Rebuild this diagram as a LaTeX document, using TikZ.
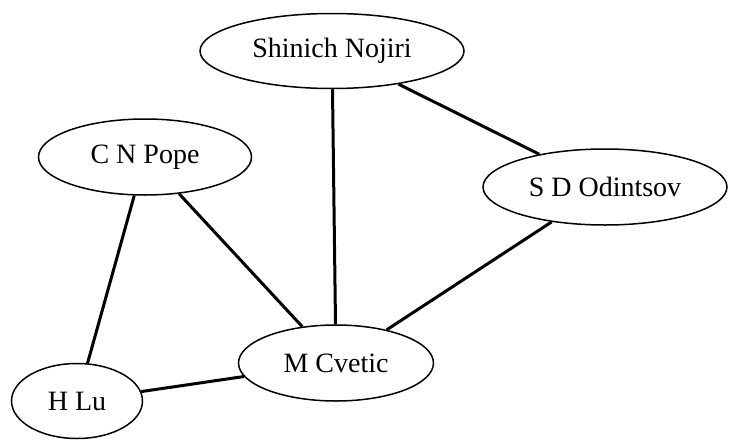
\documentclass[tikz,border=0pt]{standalone}
\usepackage{fontspec}
\setmainfont{Liberation Serif}
\usetikzlibrary{shapes.geometric}
\begin{document}
\begin{tikzpicture}[x=1pt,y=-1pt,
  person/.style={ellipse,draw=black,line width=1.5pt,inner sep=0pt,font=\fontsize{28}{32}\selectfont},
  link/.style={draw=black,line width=3pt}]
\useasboundingbox[fill=white] (0,0) rectangle (744,439);
\node[person,minimum width=264pt,minimum height=75pt] (sn) at (332,51) {Shinich Nojiri};
\node[person,minimum width=213pt,minimum height=76pt] (cp) at (145,157) {C N Pope};
\node[person,minimum width=244pt,minimum height=76pt] (sd) at (605,187) {S D Odintsov};
\node[person,minimum width=195pt,minimum height=76pt] (mc) at (336,363) {M Cvetic};
\node[person,minimum width=131pt,minimum height=75pt] (hl) at (77,401) {H Lu};
\draw[link] (sn) -- (mc);
\draw[link] (sn) -- (sd);
\draw[link] (cp) -- (mc);
\draw[link] (cp) -- (hl);
\draw[link] (sd) -- (mc);
\draw[link] (mc) -- (hl);
\end{tikzpicture}
\end{document}
